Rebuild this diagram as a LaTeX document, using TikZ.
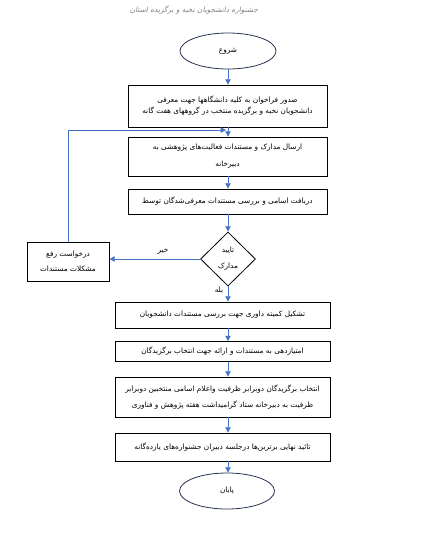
\documentclass[tikz,border=0pt]{standalone}
\usepackage{fontspec}
\newfontfamily\arabicfont[Script=Arabic]{DejaVu Sans}
\newfontfamily\arabicslant[Script=Arabic,FakeSlant=0.2]{DejaVu Sans}
\TeXXeTstate=1
\usetikzlibrary{shapes.geometric,arrows.meta}
\definecolor{lineblue}{RGB}{68,114,196}
\definecolor{ovalnavy}{RGB}{38,50,84}
\newcommand{\fa}[1]{{\arabicfont\beginR #1\endR}}

\begin{document}
\begin{tikzpicture}[x=0.75pt, y=-0.75pt, every node/.style={font=\fontsize{5.5}{8.25}\selectfont}, stepbox/.style={draw, rectangle, align=center, inner sep=0pt, line width=0.6pt}, oval/.style={draw=ovalnavy, ellipse, inner sep=0pt, line width=0.6pt, minimum height=27pt}, arr/.style={draw=lineblue, line width=0.6pt, -{Triangle[length=4pt,width=4pt]}}]
  \useasboundingbox (0,0) rectangle (421,537);
  \node[text=gray] (title) at (194,10) {\arabicslant\beginR جشنواره دانشجویان نخبه و برگزیده استان\endR};
  \node[oval,minimum width=72pt] (start) at (228,51) {\fa{شروع}};
  \node[stepbox,minimum width=149.25pt,minimum height=31.5pt] (call) at (227.5,106) {\fa{صدور فراخوان به کلیه دانشگاهها جهت معرفی} \\ \fa{دانشجویان نخبه و برگزیده منتخب در گروههای هفت گانه}};
  \node[stepbox,minimum width=149.25pt,minimum height=29.25pt] (send) at (227.5,156.5) {\fa{ارسال مدارک و مستندات فعالیت^^^^200cهای پژوهشی به} \\[4.5pt] \fa{دبیرخانه}};
  \node[stepbox,minimum width=149.25pt,minimum height=18.75pt] (recv) at (227.5,201.5) {\fa{دریافت اسامی و بررسی مستندات معرفی^^^^200cشدگان توسط}};
  \node[draw, diamond, inner sep=0pt, line width=0.6pt, minimum width=41.25pt, minimum height=40.5pt] (check) at (228,259) {};
  \node[align=center] (checktext) at (check) {\fa{تایید} \\[3.75pt] \fa{مدارک}};
  \node[stepbox,minimum width=61.5pt,minimum height=29.25pt] (fix) at (68,261.5) {\fa{درخواست رفع} \\[2.75pt] \fa{مشکلات مستندات}};
  \node[stepbox,minimum width=161.25pt,minimum height=19.5pt] (jury) at (222.5,315) {\fa{تشکیل کمیته داوری جهت بررسی مستندات دانشجویان}};
  \node[stepbox,minimum width=161.25pt,minimum height=15pt] (score) at (222.5,351.5) {\fa{امتیازدهی به مستندات و ارائه جهت انتخاب برگزیدگان}};
  \node[stepbox,minimum width=161.25pt,minimum height=30pt] (pick) at (222.5,397) {\fa{انتخاب برگزیدگان دوبرابر ظرفیت واعلام اسامی منتخبین دوبرابر} \\[3.5pt] \fa{ظرفیت به دبیرخانه ستاد گرامیداشت هفته پژوهش و فناوری}};
  \node[stepbox,minimum width=161.25pt,minimum height=21pt] (final) at (222.5,447) {\fa{تائید نهایی برترین^^^^200cها درجلسه دبیران جشنواره^^^^200cهای یازده^^^^200cگانه}};
  \node[oval,minimum width=71.25pt] (end) at (227,491) {\fa{پایان}};
  \coordinate (join) at (226,130);
  % connectors
  \draw[arr] (start.south) -- (start.south |- call.north);
  \draw[arr] (call.south -| start.south) -- (send.north -| start.south);
  \draw[arr] (send.south -| start.south) -- (recv.north -| start.south);
  \draw[arr] (recv.south -| check.north) -- (check.north);
  \draw[arr] (check.west) -- (check.west -| fix.east) node[pos=0.41, above] {\fa{خیر}};
  \draw[arr] (fix.north) |- (join);
  \draw[arr] (check.south) -- (check.south |- jury.north) node[pos=0.25, left] {\fa{بله}};
  \draw[arr] (jury.south -| check.south) -- (score.north -| check.south);
  \draw[arr] (score.south -| check.south) -- (pick.north -| check.south);
  \draw[arr] (pick.south -| check.south) -- (final.north -| check.south);
  \draw[arr] (final.south -| check.south) -- (end.north -| check.south);
\end{tikzpicture}
\end{document}
